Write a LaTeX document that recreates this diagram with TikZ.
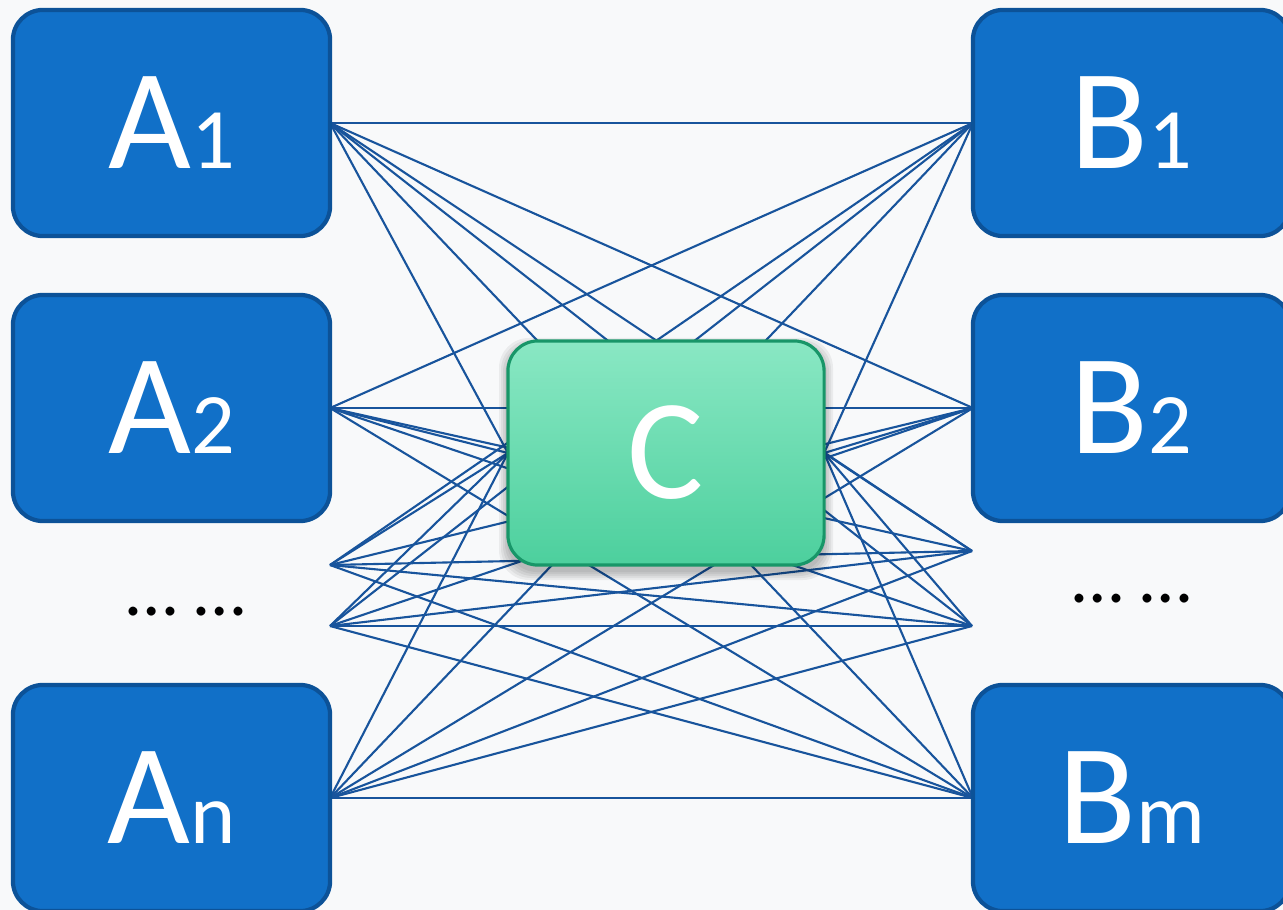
\documentclass[tikz,border=0pt]{standalone}
\usepackage{fontspec}
\newfontfamily\labelfont{Carlito}

\definecolor{paper}{RGB}{248,249,250}
\definecolor{boxfill}{RGB}{17,112,200}
\definecolor{boxedge}{RGB}{12,82,152}
\definecolor{wire}{RGB}{24,84,156}
\definecolor{mintlight}{RGB}{138,232,196}
\definecolor{mintmid}{RGB}{80,212,160}
\definecolor{mintdark}{RGB}{36,192,132}
\definecolor{mintedge}{RGB}{24,150,104}

\newcommand\lowidx[1]{{\fontsize{24.5pt}{26pt}\selectfont #1}}

\pgfdeclarelayer{wires}
\pgfsetlayers{wires,main}

\tikzset{
  blockbox/.style={draw=boxedge, line width=1.2pt, fill=boxfill, rounded corners=0.3cm,
    minimum width=3.17cm, minimum height=2.26cm, inner sep=0pt, outer sep=0pt,
    text=white, font=\labelfont\fontsize{40.7pt}{44pt}\selectfont},
  hubbox/.style={rounded corners=0.3cm, minimum width=3.16cm, minimum height=2.24cm,
    inner sep=0pt, outer sep=0pt, top color=mintlight, middle color=mintmid, bottom color=mintdark},
  wire/.style={draw=wire, line width=0.6pt},
  dots/.style={text=black, font=\labelfont\fontsize{21pt}{23pt}\selectfont, inner sep=0pt}
}

\begin{document}
\begin{tikzpicture}[x=0.01cm, y=-0.01cm]
  \useasboundingbox (0,0) rectangle (1283,910);
  \begin{pgfonlayer}{wires}
    \fill[paper] (0,0) rectangle (1283,910);
  \end{pgfonlayer}

  \begin{scope}
    \clip (0,0) rectangle (1283,910);

    % left column
    \node[blockbox] (A1) at (171.5,123) {A\lowidx{1}};
    \node[blockbox] (A2) at (171.5,408) {A\lowidx{2}};
    \node[blockbox] (An) at (171.5,798) {A\lowidx{n}};
    % right column
    \node[blockbox] (B1) at (1131.5,123) {B\lowidx{1}};
    \node[blockbox] (B2) at (1131.5,408) {B\lowidx{2}};
    \node[blockbox] (Bm) at (1131.5,798) {B\lowidx{m}};
  \end{scope}

  % unlabeled ends standing for the elided members
  \coordinate (L3) at (330,565);
  \coordinate (L4) at (330,626);
  \coordinate (R3) at (972,551);
  \coordinate (R4) at (972,626);

  \node[dots] (ldots) at (186,612) {… …};
  \node[dots] (rdots) at (1132,599) {… …};

  % soft shadow under the hub
  \foreach \s in {1,3,5,7,9}
    \fill[black, opacity=0.055, rounded corners=0.3cm]
      (508-\s,347-\s) rectangle (824+\s,571+\s);

  % hub: vertical gradient, then lighter side bands
  \node[hubbox] (C) at (666,453) {};
  \shade[rounded corners=0.3cm, opacity=0.4, left color=mintlight, middle color=mintdark, right color=mintlight]
    (C.south west) rectangle (C.north east);
  \draw[mintedge, line width=0.9pt, rounded corners=0.3cm]
    (C.south west) rectangle (C.north east);
  \node[text=white, font=\labelfont\fontsize{40.7pt}{44pt}\selectfont] (Clabel) at (C.center) {C};

  % every left end meets every right end, and its own side of the hub
  \begin{pgfonlayer}{wires}
    \foreach \l in {A1.east, A2.east, L3, L4, An.east} {
      \foreach \r in {B1.west, B2.west, R3, R4, Bm.west}
        \draw[wire] (\l) -- (\r);
      \draw[wire] (\l) -- (C.west);
    }
    \foreach \r in {B1.west, B2.west, R3, R4, Bm.west}
      \draw[wire] (\r) -- (C.east);
  \end{pgfonlayer}
\end{tikzpicture}
\end{document}
